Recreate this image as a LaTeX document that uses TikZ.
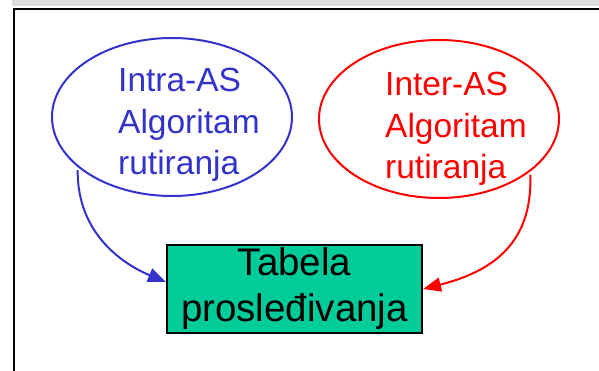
\documentclass[tikz,border=0pt]{standalone}
\usepackage{fontspec}
\setmainfont{Liberation Sans}
\usepackage{tikz}
\usetikzlibrary{shapes.geometric,arrows.meta}

\definecolor{algblue}{HTML}{3333CC}
\definecolor{algred}{HTML}{FF0000}
\definecolor{tabgreen}{HTML}{00CC99}

\begin{document}
\begin{tikzpicture}[x=1pt,y=-1pt,
    algo/.style={ellipse,draw,line width=2pt,minimum width=240pt,minimum height=158pt,inner sep=0pt},
    algotext/.style={anchor=west,align=left,inner sep=0pt,font=\fontsize{33.5}{41.5}\selectfont},
    feed/.style={line width=2pt,shorten <=3pt,-{Triangle[length=18pt,width=14pt]}}]
    \useasboundingbox (0,0) rectangle (599,371);

    % Slide frame
    \fill[gray!26] (12,0) rectangle (599,6.5);
    \draw[line width=2pt] (13.5,371) -- (13.5,9.5) -- (599,9.5);

    % Routing algorithms
    \node[algo,algblue] (intra) at (172,117) {};
    \node[algotext,algblue] (intratxt) at (118,125) {Intra-AS\\Algoritam\\rutiranja};
    \node[algo,algred] (inter) at (439,119) {};
    \node[algotext,algred] (intertxt) at (385,129) {Inter-AS\\Algoritam\\rutiranja};

    % Forwarding table
    \node[draw,line width=2pt,fill=tabgreen,minimum width=255pt,minimum height=88pt,inner sep=0pt,
        align=center,font=\fontsize{38.5}{46}\selectfont] (tabela) at (294.5,289) {Tabela\\prosleđivanja};

    % Both feed the table
    \draw[feed,algblue] (intra.208) .. controls (77,235) and (125,265) .. ([yshift=7pt]tabela.west);
    \draw[feed,algred] (inter.330) .. controls (533,245) and (490,272) .. (tabela.east);
\end{tikzpicture}
\end{document}
